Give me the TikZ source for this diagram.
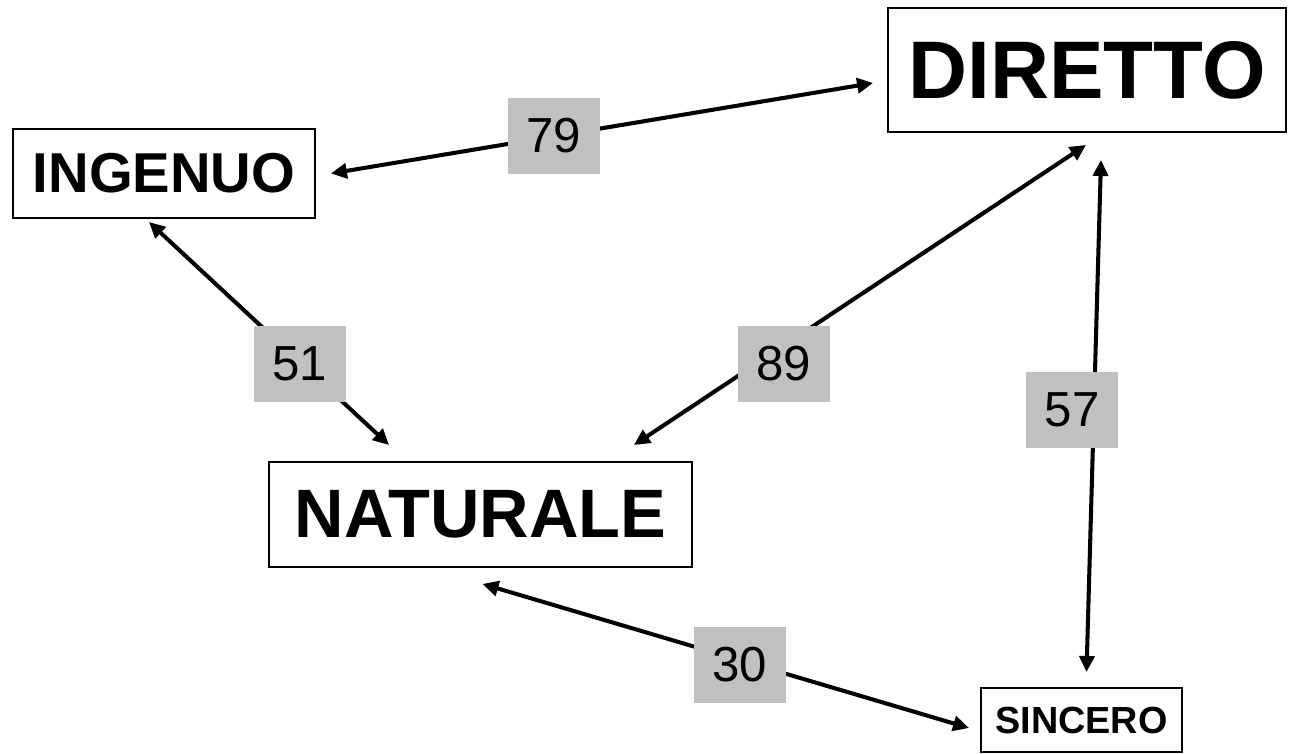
\documentclass[tikz,border=0pt]{standalone}
\usepackage{fontspec}
\setmainfont{Liberation Sans}
\usetikzlibrary{arrows.meta}
\definecolor{labelgray}{RGB}{192,192,192}
\begin{document}
\begin{tikzpicture}[x=0.02cm,y=-0.02cm,>={Triangle[length=0.32cm,width=0.3cm]},
	box/.style={draw,line width=1.1pt,inner sep=0pt},
	num/.style={fill=labelgray,inner sep=0pt,minimum width=1.84cm,minimum height=1.53cm,font=\fontsize{28}{28}\selectfont},
	link/.style={<->,line width=2.3pt}]
			\useasboundingbox (0,0) rectangle (1289,754);
			\node[box,minimum width=7.96cm,minimum height=2.48cm,font=\bfseries\fontsize{46.5}{46.5}\selectfont] (diretto) at (1087,70) {DIRETTO};
			\node[box,minimum width=6.04cm,minimum height=1.78cm,font=\bfseries\fontsize{32}{32}\selectfont] (ingenuo) at (164,173.5) {INGENUO};
			\node[box,minimum width=8.46cm,minimum height=2.1cm,font=\bfseries\fontsize{39}{39}\selectfont] (naturale) at (480.5,514.5) {NATURALE};
			\node[box,minimum width=4.02cm,minimum height=1.28cm,font=\bfseries\fontsize{21.5}{21.5}\selectfont] (sincero) at (1081.5,720) {SINCERO};
			\draw[link] ([shift={(15,0)}]ingenuo.east) -- ([shift={(-14,13)}]diretto.west);
			\draw[link] ([shift={(-15,3)}]ingenuo.south) -- ([shift={(121,-16)}]naturale.north west);
			\draw[link] ([shift={(-59,-16)}]naturale.north east) -- ([shift={(-1,12)}]diretto.south);
			\draw[link] ([shift={(14,27)}]diretto.south) -- ([shift={(5,-15)}]sincero.north);
			\draw[link] ([shift={(2,16)}]naturale.south) -- ([shift={(-11,8)}]sincero.west);
			\node[num] (n79) at (554,136) {79};
			\node[num] (n51) at (300,364) {51};
			\node[num] (n89) at (784,364) {89};
			\node[num] (n57) at (1072,410) {57};
			\node[num] (n30) at (740,665) {30};
\end{tikzpicture}
\end{document}
